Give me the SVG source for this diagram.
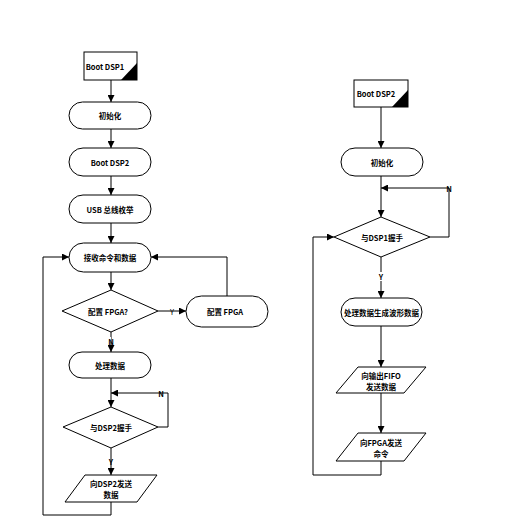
<svg xmlns="http://www.w3.org/2000/svg" width="520" height="519" viewBox="0 0 520 519">
<defs>
<marker id="ah" viewBox="0 0 10 10" refX="10" refY="5" markerWidth="7" markerHeight="7" markerUnits="userSpaceOnUse" orient="auto">
<path d="M0,0 L10,5 L0,10 z" fill="#000"/>
</marker>
</defs>
<style>
.n{fill:#fff;stroke:#000;stroke-width:1}
.c{fill:none;stroke:#000;stroke-width:1}
.a{marker-end:url(#ah)}
text{font-family:"Noto Sans CJK SC","Liberation Sans",sans-serif;font-size:7.5px;font-weight:bold;fill:#000;text-anchor:middle;dominant-baseline:central}
</style>
<rect width="520" height="519" fill="#fff"/>
<g id="connectors">
<line class="c a" x1="111" y1="80" x2="111" y2="102"/>
<line class="c a" x1="111" y1="129" x2="111" y2="148"/>
<line class="c a" x1="111" y1="176" x2="111" y2="195"/>
<line class="c a" x1="111" y1="223" x2="111" y2="243"/>
<line class="c a" x1="111" y1="272" x2="111" y2="290"/>
<line class="c a" x1="158" y1="311" x2="186" y2="311"/>
<polyline class="c a" points="227,296 227,257 151,257"/>
<line class="c a" x1="111" y1="332" x2="111" y2="352"/>
<line class="c a" x1="111" y1="378" x2="111" y2="407"/>
<polyline class="c a" points="158,427 168,427 168,393 111,393"/>
<line class="c a" x1="111" y1="448" x2="111" y2="475"/>
<polyline class="c a" points="111,502 111,515 43,515 43,257 69,257"/>
<line class="c a" x1="381" y1="107" x2="381" y2="148"/>
<line class="c a" x1="381" y1="176" x2="381" y2="217"/>
<polyline class="c a" points="430,237 449,237 449,188 381,188"/>
<line class="c a" x1="381" y1="257" x2="381" y2="298"/>
<line class="c a" x1="381" y1="326" x2="381" y2="367"/>
<line class="c a" x1="381" y1="393" x2="381" y2="433"/>
<polyline class="c a" points="381,461 381,475 313,475 313,237 334,237"/>
<rect x="107" y="337" width="4" height="5" fill="#fff"/>
<rect x="377" y="272" width="8" height="9" fill="#fff"/>
</g>
<g id="labels">
<text x="111" y="341">N</text>
<text x="172" y="311" style="font-weight:normal">Y</text>
<text x="161" y="393">N</text>
<text x="111" y="461">Y</text>
<text x="449" y="188">N</text>
<text x="381" y="276">Y</text>
</g>
<g id="boot1">
<rect class="n" x="84" y="52" width="53" height="28"/>
<polygon points="121,80 137,80 137,63" fill="#000"/>
<text x="105" y="66">Boot DSP1</text>
</g>
<g id="init1">
<rect class="n" x="69" y="102" width="82" height="27" rx="13.5"/>
<text x="110" y="115.5">初始化</text>
</g>
<g id="bootdsp2">
<rect class="n" x="69" y="148" width="82" height="28" rx="14"/>
<text x="110" y="162">Boot DSP2</text>
</g>
<g id="usb">
<rect class="n" x="69" y="195" width="82" height="28" rx="14"/>
<text x="110" y="209">USB 总线枚举</text>
</g>
<g id="recv">
<rect class="n" x="69" y="243" width="82" height="29" rx="14.5"/>
<text x="110" y="257.5">接收命令和数据</text>
</g>
<g id="cfgq">
<polygon class="n" points="111,290 158,311 111,332 62,311"/>
<text x="108" y="311">配置 FPGA?</text>
</g>
<g id="cfg">
<rect class="n" x="186" y="296" width="82" height="31" rx="15.5"/>
<text x="225" y="311.5">配置 FPGA</text>
</g>
<g id="proc1">
<rect class="n" x="69" y="352" width="82" height="26" rx="13"/>
<text x="110" y="365">处理数据</text>
</g>
<g id="hs2">
<polygon class="n" points="111,407 158,427 111,448 63,427"/>
<text x="111" y="427">与DSP2握手</text>
</g>
<g id="send2">
<polygon class="n" points="85,475 157,475 137,502 65,502"/>
<text x="111" y="483">向DSP2发送</text>
<text x="111" y="494">数据</text>
</g>
<g id="boot2">
<rect class="n" x="354" y="80" width="54" height="27"/>
<polygon points="392,107 408,107 408,90" fill="#000"/>
<text x="376" y="93">Boot DSP2</text>
</g>
<g id="init2">
<rect class="n" x="341" y="148" width="82" height="28" rx="14"/>
<text x="382" y="162">初始化</text>
</g>
<g id="hs1">
<polygon class="n" points="381,217 430,237 381,257 334,237"/>
<text x="382" y="237">与DSP1握手</text>
</g>
<g id="proc2">
<rect class="n" x="341" y="298" width="81" height="28" rx="14"/>
<text x="381.5" y="312">处理数据生成波形数据</text>
</g>
<g id="fifo">
<polygon class="n" points="358,367 426,367 404,393 336,393"/>
<text x="381" y="375">向输出FIFO</text>
<text x="381" y="386">发送数据</text>
</g>
<g id="fpgacmd">
<polygon class="n" points="358,433 426,433 404,461 336,461"/>
<text x="381" y="442">向FPGA发送</text>
<text x="381" y="453">命令</text>
</g>
</svg>
